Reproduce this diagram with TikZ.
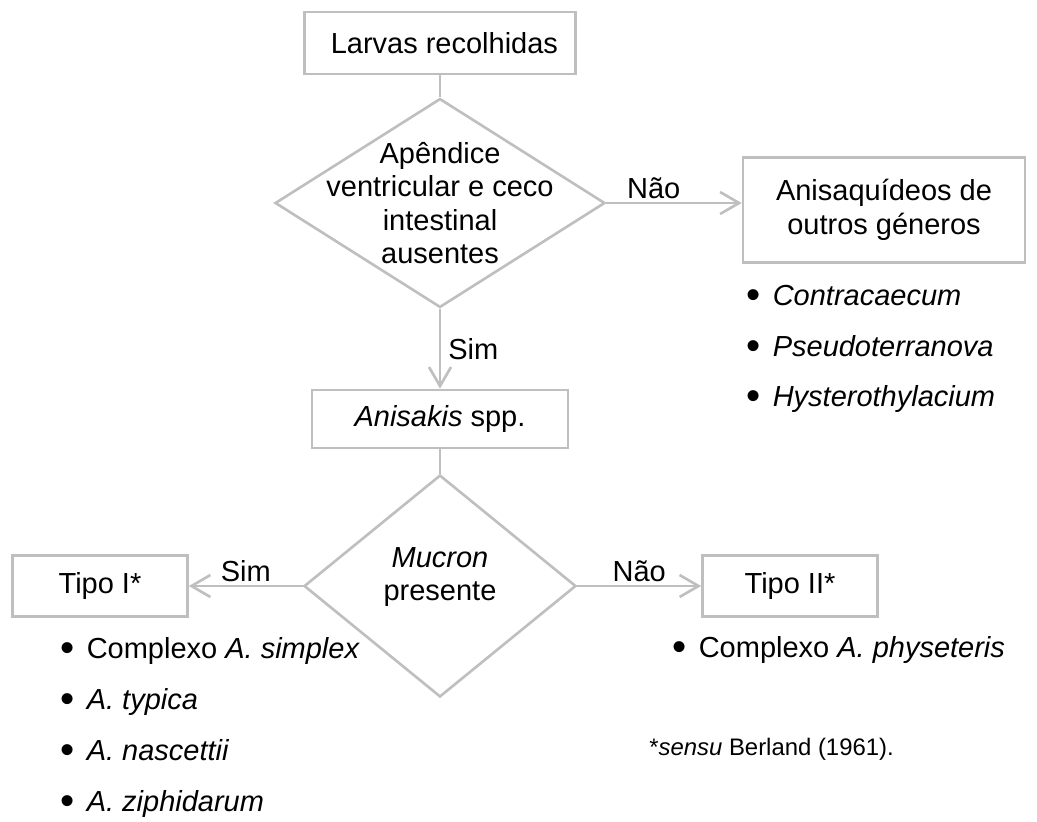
\documentclass[tikz,border=0pt]{standalone}
\usepackage{fontspec}
\setmainfont{Liberation Sans}
\usetikzlibrary{shapes.geometric,arrows.meta}

\newcommand{\blt}{\raisebox{-2.2pt}{\fontsize{23}{20}\selectfont\textbullet}\hspace{7pt}}

\begin{document}
\begin{tikzpicture}[x=0.02cm,y=-0.02cm,
		font=\fontsize{16.5}{19}\selectfont,
		box/.style={draw=gray!50,line width=1.5pt,align=center,inner sep=0pt},
		decision/.style={draw=gray!50,line width=1.5pt,diamond,inner sep=0pt},
		line/.style={gray!50,line width=1.5pt},
		arrow/.style={line,-{Straight Barb[length=0.38cm,width=0.44cm]}},
		lbl/.style={text=black,inner sep=1.5pt},
		item/.style={anchor=base west,inner sep=0pt}]

		\useasboundingbox (0,0) rectangle (1037,821);

		\node (LRV) at (440,43) [box,minimum width=5.42cm,minimum height=1.24cm] {\hspace{5pt}Larvas recolhidas};

		\node (DEC1) at (440,203) [decision,minimum width=6.6cm,minimum height=4.18cm] {};
		\node (DEC1T) at (DEC1) [align=center] {Apêndice\\ventricular e ceco\\intestinal\\ausentes};

		\node (OUT) at (884,210) [box,minimum width=5.64cm,minimum height=2.1cm] {Anisaquídeos de\\outros géneros};
		\node (C1) at (746,305) [item] {\blt\textit{Contracaecum}};
		\node (C2) at (746,356) [item] {\blt\textit{Pseudoterranova}};
		\node (C3) at (746,406) [item] {\blt\textit{Hysterothylacium}};

		\node (ANI) at (440,419) [box,minimum width=5.12cm,minimum height=1.16cm] {\textit{Anisakis} spp.};

		\node (DEC2) at (440,586) [decision,minimum width=5.44cm,minimum height=4.44cm] {};
		\node (DEC2T) at (440,577) [align=center] {\textit{Mucron}\\presente};

		\node (T1) at (100,586) [box,minimum width=3.5cm,minimum height=1.22cm] {Tipo I*};
		\node (T2) at (790,586) [box,minimum width=3.5cm,minimum height=1.22cm] {Tipo II*};

		\node (S1) at (60,658) [item] {\blt Complexo \textit{A. simplex}};
		\node (S2) at (60,709) [item] {\blt\textit{A. typica}};
		\node (S3) at (60,760) [item] {\blt\textit{A. nascettii}};
		\node (S4) at (60,811) [item] {\blt\textit{A. ziphidarum}};

		\node (P1) at (672,657) [item] {\blt Complexo \textit{A. physeteris}};

		\node (NOTE) at (649,755) [item,font=\fontsize{13.6}{16}\selectfont] {*\textit{sensu} Berland (1961).};

		\draw [line] (LRV.south) -- (DEC1.north);
		\draw [arrow] (DEC1.east) -- (DEC1.east -| OUT.west) node [lbl,pos=0.35,above] {Não};
		\draw [arrow] (DEC1.south) -- (ANI.north) node [lbl,midway,right,inner sep=4pt] {Sim};
		\draw [line] (ANI.south) -- (DEC2.north);
		\draw [arrow] (DEC2.west) -- (T1.east) node [lbl,midway,above] {Sim};
		\draw [arrow] (DEC2.east) -- (T2.west) node [lbl,midway,above] {Não};

	\end{tikzpicture}
\end{document}
